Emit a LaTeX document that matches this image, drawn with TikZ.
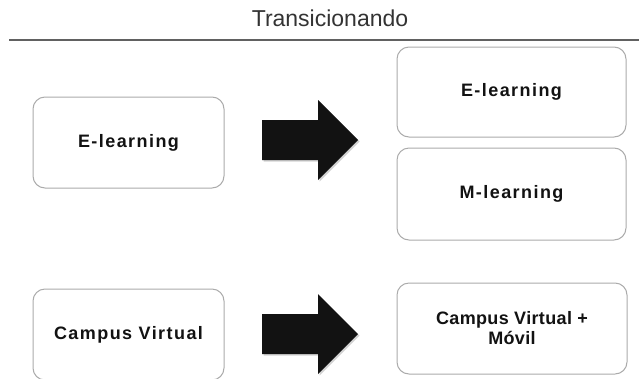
\documentclass[tikz,border=0pt]{standalone}
\usepackage{fontspec}
\setmainfont{Liberation Sans}
\newfontfamily\cajafont[LetterSpace=8]{Liberation Sans}
\usetikzlibrary{positioning,calc}
\newcommand\flechabloque{% shaft 56 long, 40 wide; head 40 long, 80 wide
  +(0,-20) -- +(56,-20) -- +(56,-40) -- +(96,0)
  -- +(56,40) -- +(56,20) -- +(0,20) -- cycle
}
\tikzset{
  caja/.style={draw=black!33, line width=1pt, rounded corners=12pt, fill=white,
    align=center, inner sep=0pt, text=black!93,
    font=\cajafont\bfseries\fontsize{18}{20}\selectfont},
  sombra/.style={fill=black!35, opacity=.5},
}

\begin{document}
\begin{tikzpicture}[x=1pt,y=-1pt]
  \useasboundingbox (0,0) rectangle (639,378);
  \node (titulo) at (330,18) [font=\fontsize{23}{25}\selectfont, text=black!80] {Transicionando};
  \draw[line width=1.5pt, black!62] (9,40) -- (639,40);

  \coordinate (f1) at (262,140);
  \coordinate (f2) at (262,334);

  \node (e1) at (128.5,142.5) [caja, minimum width=191pt, minimum height=91pt] {E-learning};
  \node (e2) at (511.5,92) [caja, minimum width=229pt, minimum height=90pt] {E-learning};
  \node (m2) [caja, minimum width=229pt, minimum height=92pt, below=10pt of e2] {M-learning};
  \node (c1) at (128.5,334.5) [caja, minimum width=191pt, minimum height=91pt] {Campus Virtual};
  \node (c2) at (512,328.5) [caja, minimum width=230pt, minimum height=91pt]
    {\addfontfeature{LetterSpace=2}Campus Virtual +\\\addfontfeature{LetterSpace=2}Móvil};

  \fill[sombra] ($(f1)+(1.5,1.5)$) \flechabloque;
  \fill[black!93] (f1) \flechabloque;
  \fill[sombra] ($(f2)+(1.5,1.5)$) \flechabloque;
  \fill[black!93] (f2) \flechabloque;
\end{tikzpicture}
\end{document}
